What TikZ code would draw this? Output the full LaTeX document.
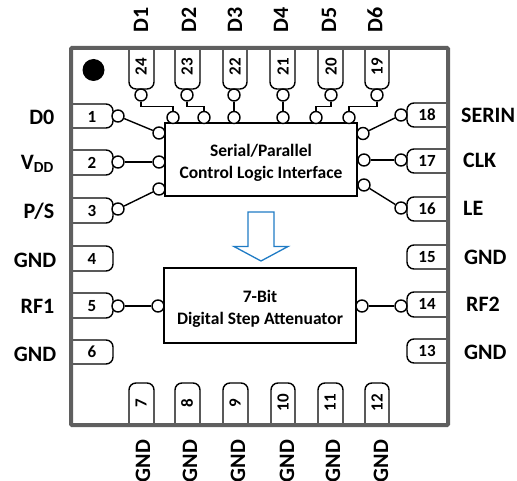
\documentclass[tikz,border=0pt]{standalone}
\usepackage{fontspec}
\setmainfont{Carlito}
\usetikzlibrary{positioning}

\definecolor{framegray}{HTML}{5F5F5F}
\definecolor{arrowblue}{HTML}{1F7BC4}

\tikzset{
  pinline/.style={line width=1.4pt, rounded corners=7pt},
  pinnum/.style={font=\fontsize{17}{17}\selectfont\bfseries, inner sep=0pt},
  port/.style={circle, draw, fill=white, line width=1.4pt, minimum size=12pt, inner sep=0pt},
  wire/.style={line width=1.4pt},
  blockbox/.style={draw, line width=1.4pt, align=center, font=\fontsize{17.5}{21.5}\selectfont\bfseries, inner sep=0pt},
  pinlabel/.style={font=\fontsize{22}{22}\selectfont\bfseries, inner sep=0pt},
}

\begin{document}
\begin{tikzpicture}[x=1pt, y=-1pt]
    \useasboundingbox (0,0) rectangle (517,481);

    % left pins
    \draw[pinline] (71,104) -- (113,104) -- (113,128) -- (71,128);
    \node[pinnum] (n1) at (92,117) {1};
    \draw[pinline] (71,150) -- (113,150) -- (113,175) -- (71,175);
    \node[pinnum] (n2) at (92,163) {2};
    \draw[pinline] (71,198) -- (113,198) -- (113,223) -- (71,223);
    \node[pinnum] (n3) at (92,211) {3};
    \draw[pinline] (71,246) -- (113,246) -- (113,271) -- (71,271);
    \node[pinnum] (n4) at (92,259) {4};
    \draw[pinline] (71,293) -- (113,293) -- (113,318) -- (71,318);
    \node[pinnum] (n5) at (92,306) {5};
    \draw[pinline] (71,340) -- (113,340) -- (113,364) -- (71,364);
    \node[pinnum] (n6) at (92,352) {6};

    % bottom pins
    \draw[pinline] (129,425) -- (129,383) -- (154,383) -- (154,425);
    \node[pinnum, rotate=90] (n7) at (141,403) {7};
    \draw[pinline] (175,425) -- (175,383) -- (200,383) -- (200,425);
    \node[pinnum, rotate=90] (n8) at (187,403) {8};
    \draw[pinline] (223,425) -- (223,383) -- (248,383) -- (248,425);
    \node[pinnum, rotate=90] (n9) at (235,403) {9};
    \draw[pinline] (271,425) -- (271,383) -- (295,383) -- (295,425);
    \node[pinnum, rotate=90] (n10) at (283,403) {10};
    \draw[pinline] (318,425) -- (318,383) -- (343,383) -- (343,425);
    \node[pinnum, rotate=90] (n11) at (330,403) {11};
    \draw[pinline] (365,425) -- (365,383) -- (389,383) -- (389,425);
    \node[pinnum, rotate=90] (n12) at (377,403) {12};

    % right pins
    \draw[pinline] (448,339) -- (407,339) -- (407,363) -- (448,363);
    \node[pinnum] (n13) at (427,351) {13};
    \draw[pinline] (448,292) -- (407,292) -- (407,317) -- (448,317);
    \node[pinnum] (n14) at (427,304) {14};
    \draw[pinline] (448,245) -- (407,245) -- (407,269) -- (448,269);
    \node[pinnum] (n15) at (427,257) {15};
    \draw[pinline] (448,197) -- (407,197) -- (407,221) -- (448,221);
    \node[pinnum] (n16) at (427,209) {16};
    \draw[pinline] (448,149) -- (407,149) -- (407,173) -- (448,173);
    \node[pinnum] (n17) at (427,161) {17};
    \draw[pinline] (448,103) -- (407,103) -- (407,127) -- (448,127);
    \node[pinnum] (n18) at (427,115) {18};

    % top pins
    \draw[pinline] (365,48) -- (365,89) -- (389,89) -- (389,48);
    \node[pinnum, rotate=90] (n19) at (377,67) {19};
    \draw[pinline] (318,48) -- (318,89) -- (343,89) -- (343,48);
    \node[pinnum, rotate=90] (n20) at (331,67) {20};
    \draw[pinline] (270,48) -- (270,89) -- (295,89) -- (295,48);
    \node[pinnum, rotate=90] (n21) at (283,67) {21};
    \draw[pinline] (223,48) -- (223,89) -- (247,89) -- (247,48);
    \node[pinnum, rotate=90] (n22) at (235,67) {22};
    \draw[pinline] (175,48) -- (175,89) -- (200,89) -- (200,48);
    \node[pinnum, rotate=90] (n23) at (187,67) {23};
    \draw[pinline] (129,48) -- (129,89) -- (154,89) -- (154,48);
    \node[pinnum, rotate=90] (n24) at (141,67) {24};

    % package outline and pin 1 dot
    \draw[framegray, line width=4pt, rounded corners=1pt] (71,48) rectangle (448,425);
    \fill (93.5,70) circle (11);

    % blocks
    \node[blockbox, minimum width=192pt, minimum height=73pt] (logic) at (261,159.5) {\rule{0pt}{19pt}Serial/Parallel\\Control Logic Interface};
    \node[blockbox, minimum width=192pt, minimum height=75pt] (atten) at (260,305.5) {\rule{0pt}{19pt}7-Bit\\Digital Step Attenuator};

    % arrow between the blocks
    \draw[arrowblue, line width=1.3pt, line join=miter] (248,212) -- (274,212) -- (274,246.5) -- (288,246.5) -- (261,261) -- (234,246.5) -- (248,246.5) -- cycle;

    % ports on the pins
    \node[port] (c1) at (118,116) {};
    \node[port] (c2) at (118,162) {};
    \node[port] (c3) at (118,209) {};
    \node[port] (c5) at (118,306) {};
    \node[port] (c14) at (401,306) {};
    \node[port] (c16) at (401,208) {};
    \node[port] (c17) at (401,160) {};
    \node[port] (c18) at (401,115) {};
    \node[port] (c19) at (377,95) {};
    \node[port] (c20) at (331,95) {};
    \node[port] (c21) at (283,95) {};
    \node[port] (c22) at (234,95) {};
    \node[port] (c23) at (187,95) {};
    \node[port] (c24) at (141,95) {};

    % ports on the blocks
    \node[port] (b1) at (159,133) {};
    \node[port] (b2) at (159,162) {};
    \node[port] (b3) at (159,189) {};
    \node[port] (b5) at (158,306) {};
    \node[port] (b14) at (362,306) {};
    \node[port] (b16) at (364,185) {};
    \node[port] (b17) at (364,160) {};
    \node[port] (b18) at (363,133.5) {};
    \node[port] (b19) at (349,117.5) {};
    \node[port] (b20) at (316,117.5) {};
    \node[port] (b21) at (283,117.5) {};
    \node[port] (b22) at (234,117.5) {};
    \node[port] (b23) at (204,117.5) {};
    \node[port] (b24) at (173,117.5) {};

    % wires
    \draw[wire] (c1) -- (b1);
    \draw[wire] (c2) -- (b2);
    \draw[wire] (c3) -- (b3);
    \draw[wire] (c5) -- (b5);
    \draw[wire] (b14) -- (c14);
    \draw[wire] (b16) -- (c16);
    \draw[wire] (b17) -- (c17);
    \draw[wire] (b18) -- (c18);
    \draw[wire] (c19.south) -- ++(0,5) -| (b19.north);
    \draw[wire] (c20.south) -- ++(0,5) -| (b20.north);
    \draw[wire] (c21) -- (b21);
    \draw[wire] (c22) -- (b22);
    \draw[wire] (c23.south) -- ++(0,5) -| (b23.north);
    \draw[wire] (c24.south) -- ++(0,5) -| (b24.north);

    % pin names, left and right
    \node[pinlabel, anchor=east] (d0) at (54.5,117) {D0};
    \node[pinlabel, anchor=east] (vdd) at (54,164) {V\textsubscript{DD}};
    \node[pinlabel, anchor=east] (ps) at (54.5,211) {P/S};
    \node[pinlabel, anchor=east] (gnd4) at (56.5,260) {GND};
    \node[pinlabel, anchor=east] (rf1) at (54.5,306) {RF1};
    \node[pinlabel, anchor=east] (gnd6) at (56.5,354) {GND};
    \node[pinlabel, anchor=west] (serin) at (461,115) {SERIN};
    \node[pinlabel, anchor=west] (clk) at (463,160) {CLK};
    \node[pinlabel, anchor=west] (le) at (463,208) {LE};
    \node[pinlabel, anchor=west] (gnd15) at (464,257) {GND};
    \node[pinlabel, anchor=west] (rf2) at (466,304) {RF2};
    \node[pinlabel, anchor=west] (gnd13) at (464,352) {GND};

    % pin names, top and bottom
    \node[pinlabel, rotate=90] (d1) at (141,20) {D1};
    \node[pinlabel, rotate=90] (d2) at (189,20) {D2};
    \node[pinlabel, rotate=90] (d3) at (235,20) {D3};
    \node[pinlabel, rotate=90] (d4) at (281,20) {D4};
    \node[pinlabel, rotate=90] (d5) at (329,20) {D5};
    \node[pinlabel, rotate=90] (d6) at (375,20) {D6};
    \node[pinlabel, rotate=90] (gnd7) at (143,461) {GND};
    \node[pinlabel, rotate=90] (gnd8) at (190,461) {GND};
    \node[pinlabel, rotate=90] (gnd9) at (238,461) {GND};
    \node[pinlabel, rotate=90] (gnd10) at (287,461) {GND};
    \node[pinlabel, rotate=90] (gnd11) at (333,461) {GND};
    \node[pinlabel, rotate=90] (gnd12) at (381,461) {GND};
\end{tikzpicture}
\end{document}
